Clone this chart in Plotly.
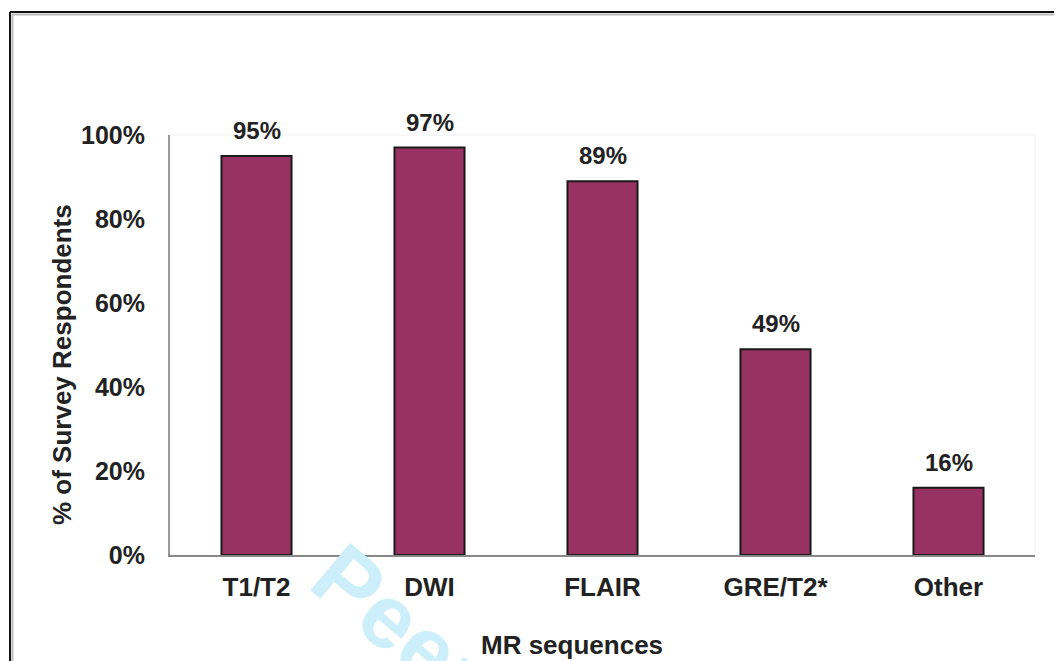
import plotly.graph_objects as go

# survey data: share of respondents using each MR sequence
sequences = ["T1/T2", "DWI", "FLAIR", "GRE/T2*", "Other"]
pct_respondents = [95, 97, 89, 49, 16]
y_ticks = [0, 20, 40, 60, 80, 100]
y_tick_labels = [f"{v}%" for v in y_ticks]

BAR_COLOR = "#983262"
FONT = "Liberation Sans, Arial, sans-serif"
OFF = 8  # page body margin pushes the figure 8px right/down
W, H = 1062 - OFF, 661 - OFF
L, R, T, B = 170 - OFF, 27, 135 - OFF, 106


def px_x(px):
    # screen pixel -> paper coordinate
    return (px - OFF - L) / (W - L - R)


def px_y(py):
    return (H - B - (py - OFF)) / (H - T - B)


fig = go.Figure()
fig.add_trace(
    go.Bar(
        x=sequences,
        y=pct_respondents,
        marker=dict(color=BAR_COLOR, line=dict(color="#1a1a1a", width=2)),
        showlegend=False,
    )
)

# faint "Peer Review" watermark peeking out below the axis
fig.add_annotation(
    xref="paper", yref="paper", x=px_x(400), y=px_y(625),
    xanchor="center", yanchor="middle",
    text="<b>Peer</b>", textangle=40, showarrow=False,
    font=dict(family=FONT, size=90, color="#cdeefb"),
)

for seq, val in zip(sequences, pct_respondents):
    fig.add_annotation(
        x=seq, y=val, text=f"<b>{val}%</b>", showarrow=False,
        yanchor="bottom", yshift=10,
        font=dict(family=FONT, size=24, color="#222"),
    )

# axis titles placed as free annotations to match the original offsets
fig.add_annotation(
    xref="paper", yref="paper", x=px_x(62), y=px_y(365),
    xanchor="center", yanchor="middle",
    text="<b>% of Survey Respondents</b>", textangle=-90, showarrow=False,
    font=dict(family=FONT, size=26, color="#222"),
)
fig.add_annotation(
    xref="paper", yref="paper", x=px_x(572), y=px_y(645),
    xanchor="center", yanchor="middle",
    text="<b>MR sequences</b>", showarrow=False,
    font=dict(family=FONT, size=26, color="#222"),
)

# page frame (left and top edges) and faint plot border
frame = dict(color="#111", width=2)
fig.add_shape(type="line", xref="paper", yref="paper",
              x0=px_x(10), x1=px_x(10), y0=px_y(12), y1=px_y(661), line=frame)
fig.add_shape(type="line", xref="paper", yref="paper",
              x0=px_x(10), x1=px_x(1062), y0=px_y(12), y1=px_y(12), line=frame)
fig.add_shape(type="line", xref="paper", yref="paper",
              x0=px_x(12.5), x1=px_x(12.5), y0=px_y(14), y1=px_y(661),
              line=dict(color="#bbb", width=2))
fig.add_shape(type="line", xref="paper", yref="paper",
              x0=px_x(12), x1=px_x(1062), y0=px_y(14.5), y1=px_y(14.5),
              line=dict(color="#bbb", width=2))
fig.add_shape(type="rect", xref="paper", yref="paper", x0=0, x1=1, y0=0, y1=1,
              line=dict(color="#f0f0f0", width=1), layer="below")

fig.update_layout(
    width=W, height=H,
    margin=dict(l=L, r=R, t=T, b=B),
    paper_bgcolor="white", plot_bgcolor="white",
    bargap=0.595,
    font=dict(family=FONT, color="#222"),
)
fig.update_xaxes(
    showline=True, linecolor="#888", linewidth=1.5,
    showgrid=False, ticks="", ticklabelstandoff=8,
    tickfont=dict(family=FONT, size=26, color="#222", weight="bold"),
)
fig.update_yaxes(
    range=[0, 100], tickvals=y_ticks, ticktext=y_tick_labels,
    showline=True, linecolor="#999", linewidth=2,
    showgrid=False, zeroline=False, ticks="", ticklabelstandoff=18,
    tickfont=dict(family=FONT, size=25, color="#222", weight="bold"),
)

fig.write_html("out.html")
